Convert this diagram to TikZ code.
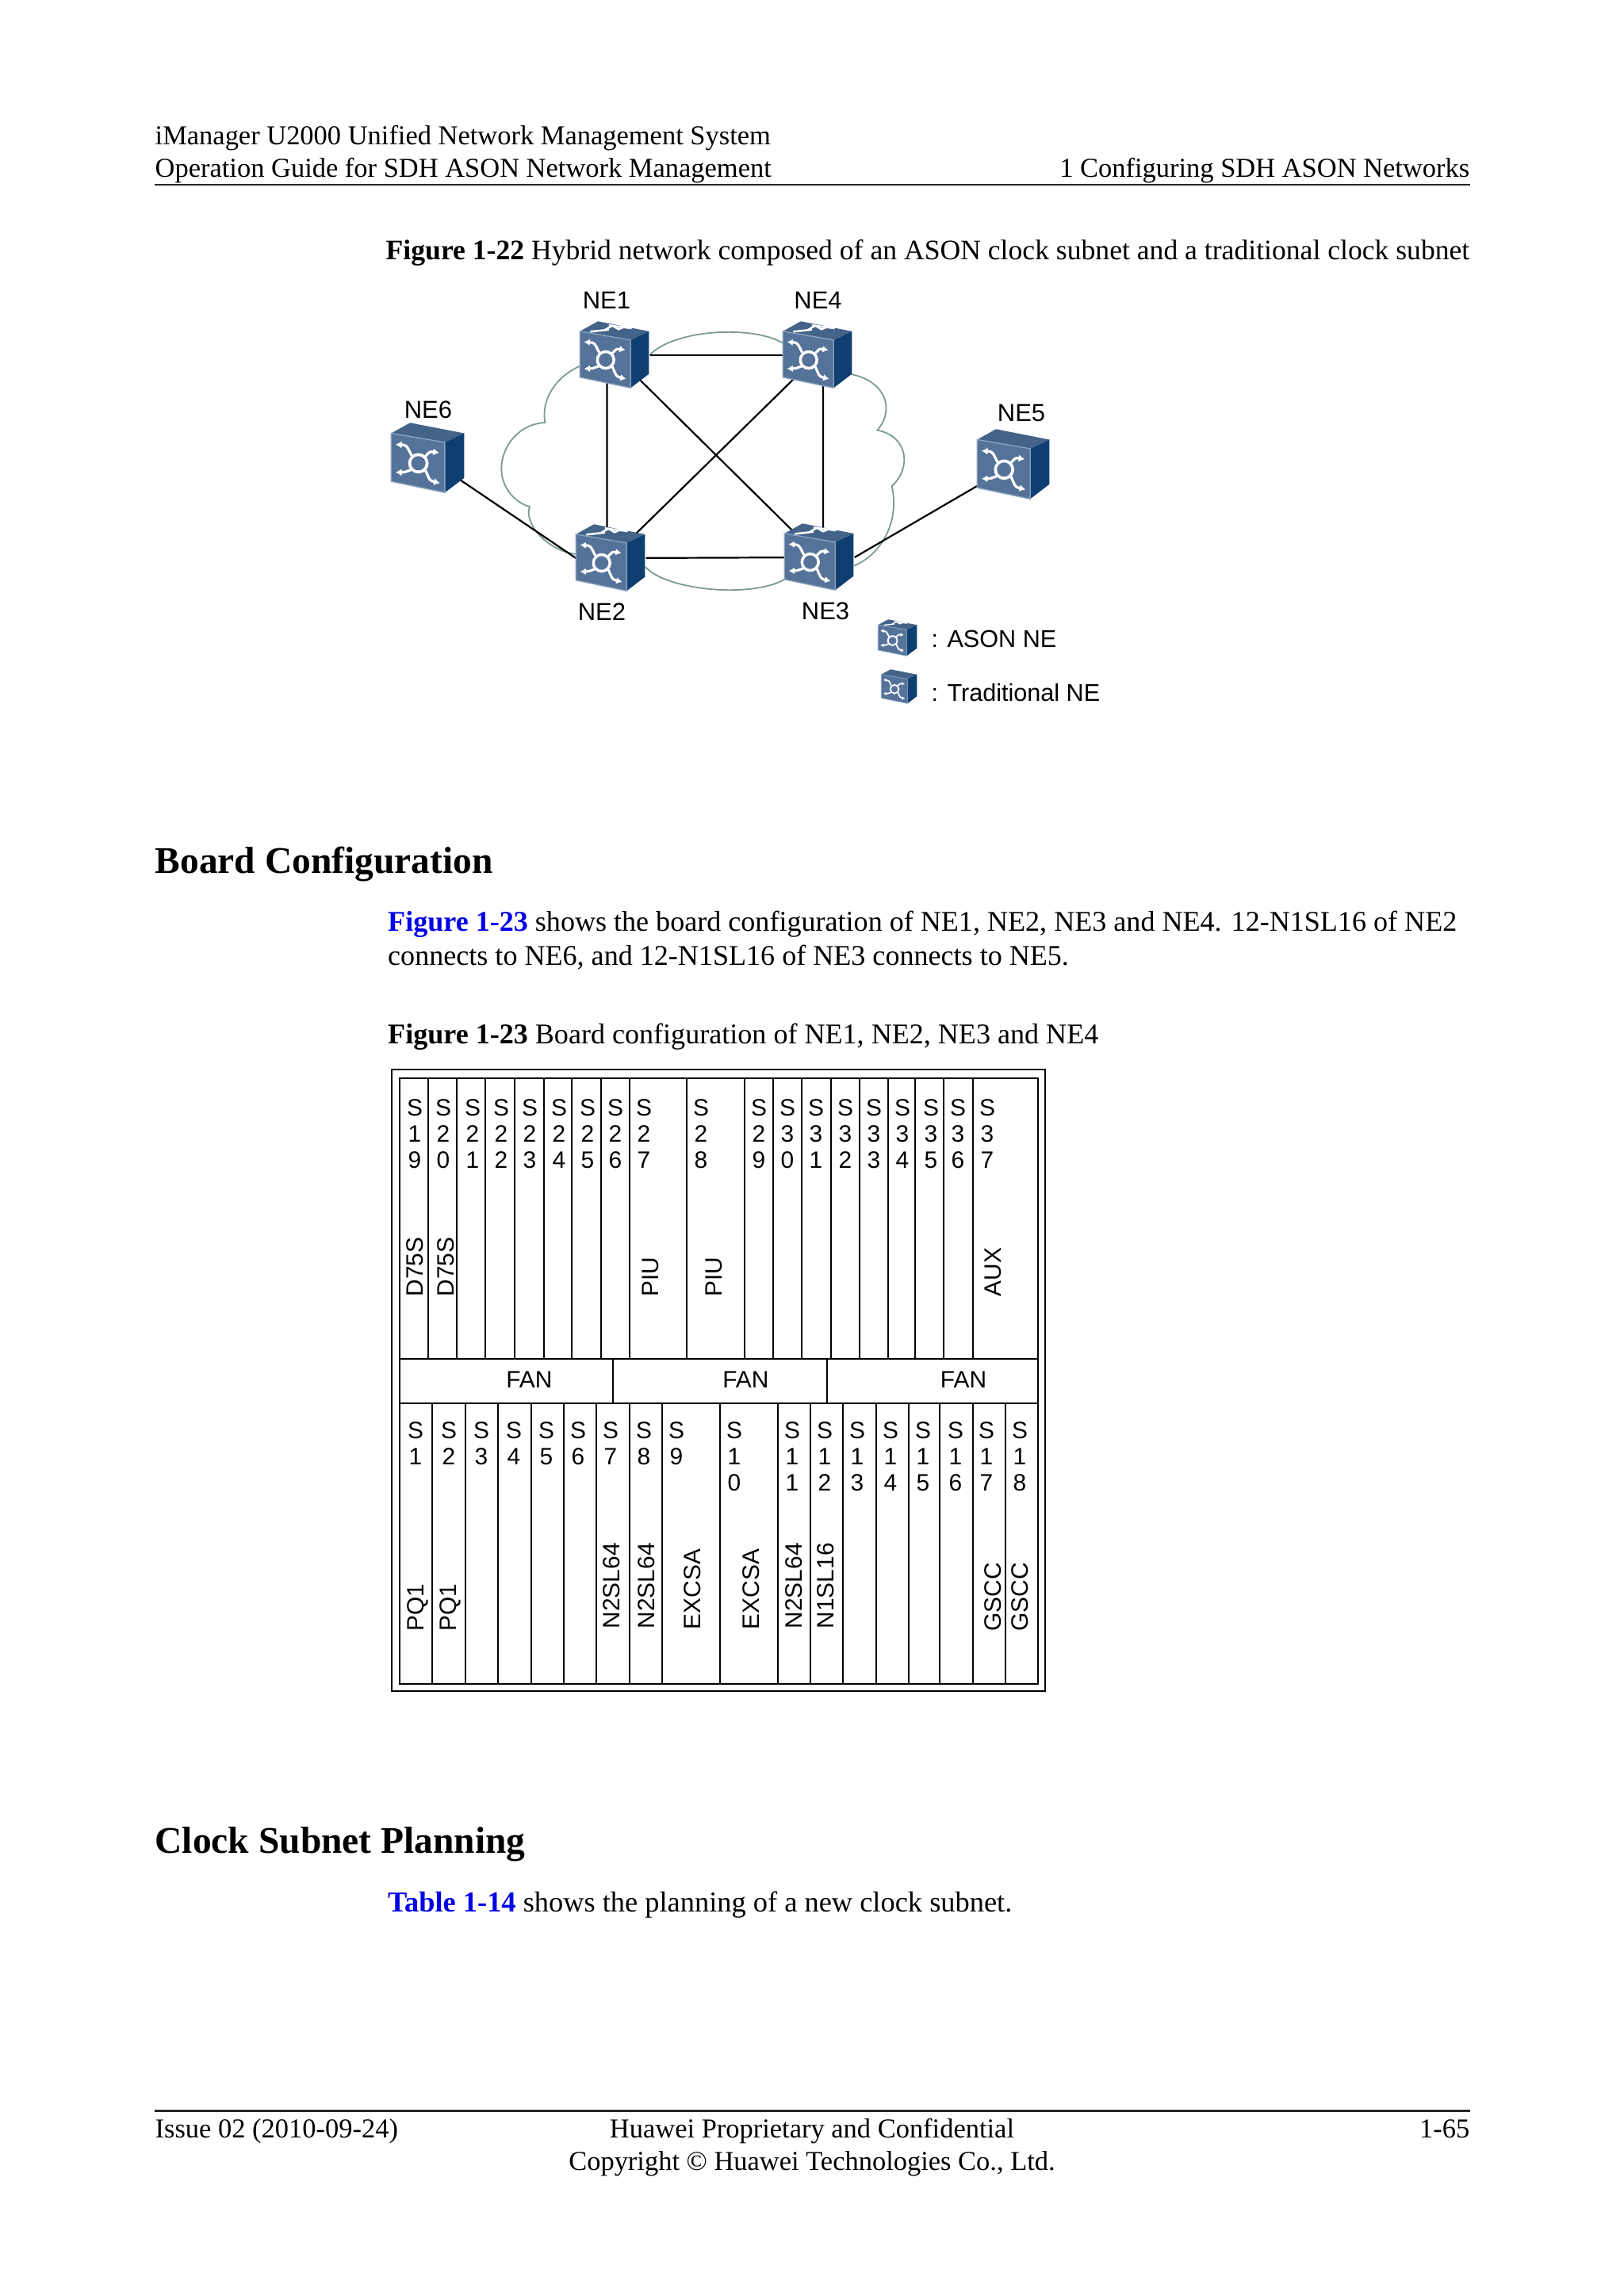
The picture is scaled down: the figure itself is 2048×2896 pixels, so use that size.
\documentclass[tikz,border=0pt]{standalone}
\usepackage{fontspec}
\setmainfont{Liberation Serif}
\setsansfont{Liberation Sans}
\usetikzlibrary{arrows.meta,positioning,backgrounds}
\definecolor{nefront}{HTML}{557399}
\definecolor{netop}{HTML}{436389}
\definecolor{neside}{HTML}{0F3F70}
\definecolor{needge}{HTML}{8AA3BF}
\definecolor{cloudgreen}{HTML}{7C9A94}
\definecolor{linkblue}{HTML}{0000E6}
\newcommand{\neshape}[1]{%
  \pgfmathsetmacro{\tiplen}{#1*.085}
  \pgfmathsetmacro{\tipwid}{#1*.1}
  \tikzset{nearm/.style={white, line width=#1*.036cm, arrows={-{Latex[length=\tiplen cm, width=\tipwid cm]}}}}
  \fill[netop] (0,.15) -- (.26,0) -- (1,.15) -- (.735,.28) -- cycle;
  \fill[neside] (.735,.28) -- (1,.15) -- (1,.79) -- (.735,1) -- cycle;
  \filldraw[fill=nefront, draw=needge, line width=#1*.015cm] (0,.15) -- (.735,.28) -- (.735,1) -- (0,.84) -- cycle;
  \draw[nearm] (.28,.47) .. controls (.21,.32) .. (.06,.31);
  \draw[nearm] (.47,.48) .. controls (.53,.41) .. (.66,.43);
  \draw[nearm] (.28,.67) .. controls (.18,.71) .. (.06,.71);
  \draw[nearm] (.47,.68) .. controls (.53,.83) .. (.67,.865);
  \draw[white, line width=#1*.04cm] (.373,.58) ellipse [x radius=.12, y radius=.125];
}
\tikzset{
  nebox/.style 2 args={minimum width=#1cm, minimum height=#2cm, inner sep=0pt}
}
\begin{document}
\begin{tikzpicture}[x=0.01cm, y=-0.01cm, >=Latex,
  bodytext/.style={inner sep=0pt, font=\fontsize{10.26}{12}\selectfont},
  pagetext/.style={inner sep=0pt, font=\fontsize{9.8}{12}\selectfont},
  headtext/.style={inner sep=0pt, anchor=base west, font=\bfseries\fontsize{13.5}{15}\selectfont},
  nelabel/.style={inner sep=0pt, font=\sffamily\fontsize{8.8}{10}\selectfont},
  legendtext/.style={inner sep=0pt, anchor=base west, font=\sffamily\fontsize{8.7}{10}\selectfont},
  slottext/.style={inner sep=0pt, anchor=north, align=center, font=\sffamily\fontsize{8.5}{9.4}\selectfont},
  boardtext/.style={inner sep=0pt, anchor=west, rotate=90, font=\sffamily\fontsize{8.5}{9.5}\selectfont},
  fantext/.style={inner sep=0pt, font=\sffamily\fontsize{8.5}{9.5}\selectfont},
  nelink/.style={line width=0.022cm},
  slotline/.style={line width=0.02cm},
  boardline/.style={line width=0.026cm},
  pagerule/.style={line width=0.026cm, black!85}]
\useasboundingbox (0,0) rectangle (2048,2896);

\node[pagetext, anchor=base west] (head1) at (195,182) {iManager U2000 Unified Network Management System};
\node[pagetext, anchor=base west] (head2) at (195,223) {Operation Guide for SDH ASON Network Management};
\node[pagetext, anchor=base east] (head3) at (1854,223) {1 Configuring SDH ASON Networks};
\draw[pagerule] (195,233) -- (1854,233);
\node[bodytext, anchor=base east, font=\fontsize{10.13}{12}\selectfont] (cap22) at (1854,327) {\textbf{Figure 1-22} Hybrid network composed of an ASON clock subnet and a traditional clock subnet};

\node[nebox={0.87}{0.84}] (ne1) at (775.5,448) {};
\node[nebox={0.87}{0.84}] (ne4) at (1031.5,448) {};
\node[nebox={0.87}{0.84}] (ne2) at (770.5,704) {};
\node[nebox={0.87}{0.84}] (ne3) at (1033.5,703) {};
\node[nebox={0.92}{0.88}] (ne6) at (540,578) {};
\node[nebox={0.91}{0.88}] (ne5) at (1278.5,586) {};
\node[nebox={0.49}{0.46}] (keyason) at (1132.5,805) {};
\node[nebox={0.45}{0.43}] (keytrad) at (1134.5,866.5) {};
\node[nelabel, above=0.15cm of ne1, xshift=-0.105cm] (lab1) {NE1};
\node[nelabel, above=0.15cm of ne4, xshift=0.0cm] (lab4) {NE4};
\node[nelabel, above=0.05cm of ne6] (lab6) {NE6};
\node[nelabel, above=0.09cm of ne5, xshift=0.095cm] (lab5) {NE5};
\node[nelabel, below=0.13cm of ne2, xshift=-0.115cm] (lab2) {NE2};
\node[nelabel, below=0.13cm of ne3, xshift=0.075cm] (lab3) {NE3};
\begin{scope}[on background layer]
\draw[cloudgreen, line width=0.018cm]
  (733,461) .. controls (700,475) and (682,505) .. (687.4,533)
  .. controls (650,535) and (628,570) .. (633,600) .. controls (637,620) and (652,635) .. (668,639)
  .. controls (660,660) and (690,695) .. (727,699)
  (814,715) .. controls (840,745) and (950,755) .. (990.7,730)
  (1077,713.6) .. controls (1110,700) and (1135,660) .. (1124.7,613)
  .. controls (1150,590) and (1145,550) .. (1106.4,542.6)
  .. controls (1130,515) and (1115,480) .. (1073,472)
  (819,448) .. controls (850,415) and (950,410) .. (987.7,433);
\draw[nelink] (ne1) -- (ne4);
\draw[nelink] (ne2) -- (ne3);
\draw[nelink] ([xshift=-0.1cm]ne1.center) -- ([xshift=-0.05cm]ne2.center);
\draw[nelink] ([xshift=0.065cm]ne4.center) -- ([xshift=0.045cm]ne3.center);
\draw[nelink] (ne1.center) -- (ne3.center);
\draw[nelink] (ne4.center) -- (ne2.center);
\draw[nelink] (ne6.center) -- (ne2.west);
\draw[nelink] (ne3.east) -- (ne5.center);
\end{scope}
\foreach \nename/\nw/\nh in {ne6/0.92/0.88,ne5/0.91/0.88,keytrad/0.45/0.43} {
  \begin{scope}[shift={(\nename.north west)}, x=\nw cm, y=-\nh cm]
    \neshape{\nw}
  \end{scope}
}
\foreach \nename/\nw/\nh in {ne1/0.87/0.84,ne4/0.87/0.84,ne2/0.87/0.84,ne3/0.87/0.84,keyason/0.49/0.46} {
  \begin{scope}[shift={(\nename.north west)}, x=\nw cm, y=-\nh cm]
    \neshape{\nw}
    \draw[white, line width=\nw*.028cm] (.15,.155) -- (.42,.125);
    \draw[white, line width=\nw*.028cm] (.42,.06) -- (.75,.105);
    \draw[white, line width=\nw*.028cm] (.36,.13) -- (.47,.065) -- (.56,.12) -- (.66,.075);
  \end{scope}
}
\node[legendtext] (keyasontext) at (1174,816) {: ASON NE};
\node[legendtext] (keytradtext) at (1174,884) {: Traditional NE};

\node[headtext] (board) at (195,1101) {Board Configuration};
\node[bodytext, anchor=base west] (para1) at (488.5,1174) {\textcolor{linkblue}{\textbf{Figure 1-23}} shows the board configuration of NE1, NE2, NE3 and NE4. 12-N1SL16 of NE2};
\node[bodytext, anchor=base west] (para2) at (488.5,1217.7) {connects to NE6, and 12-N1SL16 of NE3 connects to NE5.};
\node[bodytext, anchor=base west] (cap23) at (488.5,1316) {\textbf{Figure 1-23} Board configuration of NE1, NE2, NE3 and NE4};

\draw[boardline] (494,1349) rectangle (1318,2133);
\draw[boardline] (504,1360) rectangle (1309,2124);
\draw[boardline] (504,1714) -- (1309,1714);
\draw[boardline] (504,1770) -- (1309,1770);
\foreach \xa in {540.4,576.2,612.4,649.2,685.5,721.2,758,794.3,866.3,938.8,975,1011.3,1047.6,1083.8,1120,1154.2,1189.9,1226.7}
  \draw[slotline] (\xa,1360) -- (\xa,1714);
\foreach \xa in {773.4,1042.6}
  \draw[slotline] (\xa,1714) -- (\xa,1770);
\foreach \xa in {545.4,586.6,628.4,669.6,710.8,752,793.7,834.9,908,980.5,1021.8,1063,1104.7,1146,1185,1226.7,1268}
  \draw[slotline] (\xa,1770) -- (\xa,2124);
\foreach \xa/\name [count=\i] in {523/S\\1\\9,559/S\\2\\0,596/S\\2\\1,632/S\\2\\2,668/S\\2\\3,705/S\\2\\4,741/S\\2\\5,776/S\\2\\6,812/S\\2\\7,884/S\\2\\8,957/S\\2\\9,993/S\\3\\0,1029/S\\3\\1,1066/S\\3\\2,1102/S\\3\\3,1138/S\\3\\4,1174/S\\3\\5,1208/S\\3\\6,1245/S\\3\\7}
  \node[slottext] (up\i) at (\xa,1386) {\name};
\foreach \xa/\name [count=\i] in {524/S\\1,566/S\\2,607/S\\3,648/S\\4,689/S\\5,729/S\\6,770/S\\7,812/S\\8,853/S\\9,926/S\\1\\0,999/S\\1\\1,1040/S\\1\\2,1081/S\\1\\3,1123/S\\1\\4,1164/S\\1\\5,1205/S\\1\\6,1244/S\\1\\7,1286/S\\1\\8}
  \node[slottext] (low\i) at (\xa,1793) {\name};
\foreach \xa/\name [count=\i] in {523/D75S,562.4/D75S,820.7/PIU,900/PIU,1252/AUX}
  \node[boardtext] (upcard\i) at (\xa,1636) {\name};
\foreach \xa/\ya/\name [count=\i] in {526.7/2058/PQ1,568/2058/PQ1,771/2055/N2SL64,815/2055/N2SL64,873/2056/EXCSA,947/2056/EXCSA,1001/2055/N2SL64,1041.5/2055/N1SL16,1252/2058/GSCC,1286/2058/GSCC}
  \node[boardtext] (lowcard\i) at (\xa,\ya) {\name};
\foreach \xa [count=\i] in {667.4,940.4,1215}
  \node[fantext] (fan\i) at (\xa,1740) {FAN};

\node[headtext] (clock) at (195,2337.7) {Clock Subnet Planning};
\node[bodytext, anchor=base west, font=\fontsize{10.35}{12}\selectfont] (para3) at (488.5,2411.7) {\textcolor{linkblue}{\textbf{Table 1-14}} shows the planning of a new clock subnet.};
\draw[pagerule] (195,2662.7) -- (1854,2662.7);
\node[pagetext, anchor=base west] (foot1) at (195,2696) {Issue 02 (2010-09-24)};
\node[pagetext, anchor=base] (foot2) at (1024,2696) {Huawei Proprietary and Confidential};
\node[pagetext, anchor=base east] (foot3) at (1854,2696) {1-65};
\node[pagetext, anchor=base] (foot4) at (1024,2737) {Copyright © Huawei Technologies Co., Ltd.};
\end{tikzpicture}
\end{document}
